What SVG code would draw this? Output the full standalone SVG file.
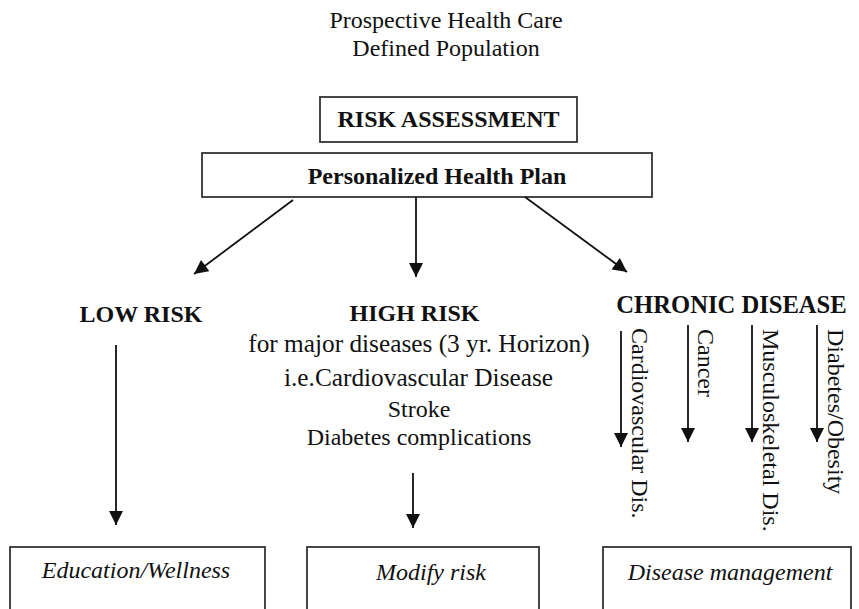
<svg xmlns="http://www.w3.org/2000/svg" width="859" height="609" viewBox="0 0 859 609">
<style>
text{font-family:"Liberation Serif","Times New Roman",serif;fill:#111;font-size:24px}
.c{text-anchor:middle}
.b{font-weight:bold}
.i{font-style:italic}
.w{font-size:25.3px}
.box{fill:#fff;stroke:#333;stroke-width:1.8}
.ln{stroke:#111;stroke-width:1.8;fill:none;marker-end:url(#ah)}
</style>
<defs>
<marker id="ah" viewBox="0 0 10 10" refX="10" refY="5" markerWidth="15" markerHeight="14" markerUnits="userSpaceOnUse" orient="auto">
<path d="M0,0 L10,5 L0,10 z" fill="#111"/>
</marker>
</defs>
<rect width="859" height="609" fill="#fff"/>
<g id="title">
<text class="c" x="446" y="28">Prospective Health Care</text>
<text class="c" x="446" y="56">Defined Population</text>
</g>
<g id="risk-assessment">
<rect class="box" x="320" y="97" width="257" height="45"/>
<text class="c b" x="448.5" y="127">RISK ASSESSMENT</text>
</g>
<g id="health-plan">
<rect class="box" x="202" y="153" width="450" height="44"/>
<text class="c b" x="437" y="184">Personalized Health Plan</text>
</g>
<g id="low-risk">
<text class="c b" x="141" y="322">LOW RISK</text>
</g>
<g id="high-risk">
<text class="c b" x="414.5" y="321">HIGH RISK</text>
<text class="c w" x="419" y="352">for major diseases (3 yr. Horizon)</text>
<text class="c w" x="418.5" y="386">i.e.Cardiovascular Disease</text>
<text class="c" x="419" y="417">Stroke</text>
<text class="c" x="419" y="445">Diabetes complications</text>
</g>
<g id="chronic-disease">
<text class="c b" x="731.5" y="313" style="font-size:24.6px">CHRONIC DISEASE</text>
<text transform="translate(632,328) rotate(90)">Cardiovascular Dis.</text>
<text transform="translate(698,329) rotate(90)">Cancer</text>
<text transform="translate(763,329) rotate(90)">Musculoskeletal Dis.</text>
<text transform="translate(828,329) rotate(90)">Diabetes/Obesity</text>
</g>
<g id="education-wellness">
<rect class="box" x="10" y="547" width="255" height="100"/>
<text class="c i" x="136" y="578">Education/Wellness</text>
</g>
<g id="modify-risk">
<rect class="box" x="307" y="547" width="232" height="100"/>
<text class="c i" x="431" y="580">Modify risk</text>
</g>
<g id="disease-management">
<rect class="box" x="603" y="547" width="248" height="100"/>
<text class="c i" x="730" y="580">Disease management</text>
</g>
<g id="connectors">
<line class="ln" x1="293" y1="200" x2="194" y2="274"/>
<line class="ln" x1="416" y1="197" x2="416" y2="277"/>
<line class="ln" x1="525" y1="197" x2="627" y2="272"/>
<line class="ln" x1="116" y1="345" x2="116" y2="525"/>
<line class="ln" x1="413" y1="473" x2="413" y2="528"/>
<line class="ln" x1="621" y1="331" x2="621" y2="447"/>
<line class="ln" x1="688" y1="325" x2="688" y2="442"/>
<line class="ln" x1="752" y1="325" x2="752" y2="442"/>
<line class="ln" x1="817" y1="325" x2="817" y2="442"/>
</g>
</svg>
